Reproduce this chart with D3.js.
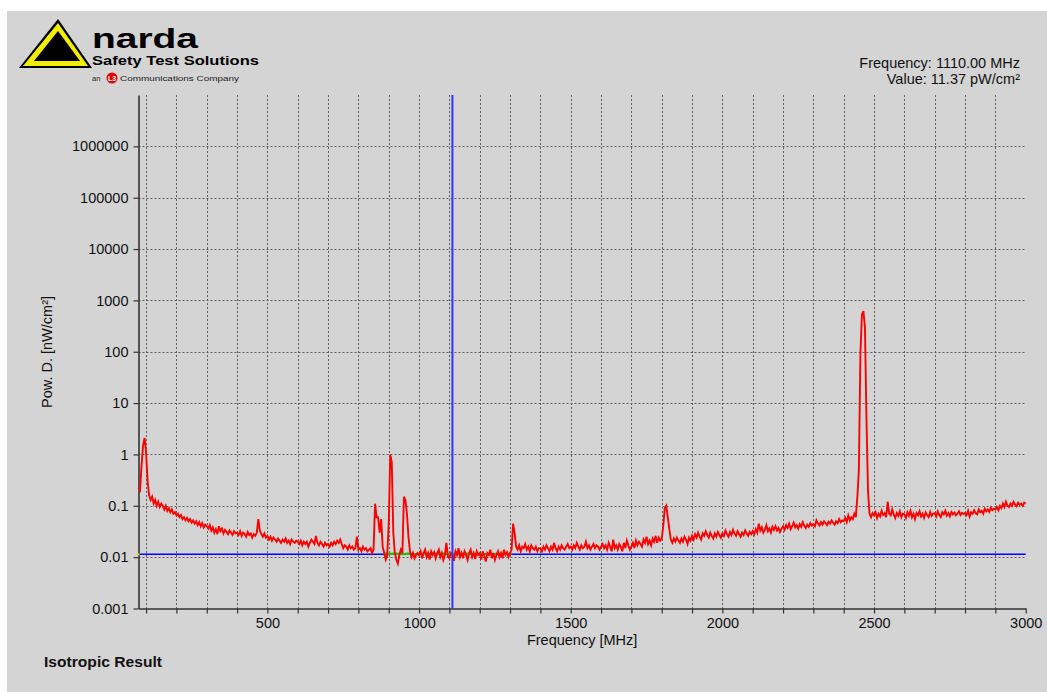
<!DOCTYPE html>
<html>
<head>
<meta charset="utf-8">
<script src="https://cdn.jsdelivr.net/npm/d3@7"></script>
<style>
  html, body { margin: 0; padding: 0; background: #fff; }
  svg { display: block; font-family: "Liberation Sans", Arial, sans-serif; }
</style>
</head>
<body>
<div id="chart"></div>
<script>
// ── Data ───────────────────────────────────────────────────────────────────
const SWEEP_START = 75   // MHz
const SWEEP_STEP = 5     // MHz per sample

// power density in nW/cm², one row per 100 MHz
const powerDensity = [
  0.22, 0.2, 0.6, 1.5, 2.1,
  1.1, 0.3, 0.16, 0.13, 0.15, 0.11, 0.13, 0.1, 0.12, 0.095, 0.11, 0.1, 0.085, 0.1, 0.08, 0.09, 0.075, 0.085, 0.07, 0.075,
  0.065, 0.07, 0.06, 0.066, 0.055, 0.06, 0.052, 0.058, 0.05, 0.055, 0.047, 0.052, 0.045, 0.05, 0.042, 0.048, 0.04, 0.046, 0.038, 0.043,
  0.04, 0.036, 0.042, 0.033, 0.038, 0.03, 0.035, 0.028, 0.04, 0.032, 0.036, 0.029, 0.034, 0.031, 0.028, 0.033, 0.03, 0.027, 0.032, 0.029,
  0.03, 0.027, 0.032, 0.026, 0.03, 0.028, 0.025, 0.031, 0.027, 0.029, 0.024, 0.028, 0.026, 0.03, 0.055, 0.033, 0.028, 0.025, 0.029, 0.024,
  0.026, 0.022, 0.025, 0.021, 0.024, 0.022, 0.02, 0.023, 0.021, 0.019, 0.022, 0.02, 0.023, 0.019, 0.021, 0.018, 0.022, 0.02, 0.019, 0.021,
  0.02, 0.018, 0.021, 0.017, 0.02, 0.018, 0.02, 0.016, 0.019, 0.022, 0.02, 0.018, 0.026, 0.019, 0.017, 0.02, 0.018, 0.016, 0.019, 0.017,
  0.018, 0.016, 0.019, 0.017, 0.02, 0.018, 0.021, 0.019, 0.022, 0.018, 0.015, 0.017, 0.016, 0.014, 0.017, 0.015, 0.016, 0.014, 0.015, 0.025,
  0.014, 0.015, 0.013, 0.016, 0.014, 0.015, 0.013, 0.014, 0.015, 0.012, 0.014, 0.11, 0.06, 0.06, 0.03, 0.055, 0.016, 0.012, 0.009, 0.011,
  0.045, 1.0, 0.7, 0.03, 0.012, 0.009, 0.0075, 0.011, 0.014, 0.012, 0.15, 0.13, 0.07, 0.025, 0.013, 0.01, 0.012, 0.0095, 0.011, 0.012,
  0.011, 0.013, 0.0095, 0.012, 0.014, 0.01, 0.012, 0.009, 0.013, 0.011, 0.0125, 0.0095, 0.012, 0.014, 0.01, 0.012, 0.0088, 0.011, 0.019, 0.0105,
  0.0095, 0.012, 0.011, 0.0085, 0.013, 0.011, 0.015, 0.01, 0.012, 0.0095, 0.013, 0.011, 0.0088, 0.012, 0.014, 0.01, 0.012, 0.0092, 0.013, 0.011,
  0.012, 0.009, 0.013, 0.0105, 0.0082, 0.012, 0.011, 0.014, 0.0095, 0.012, 0.0088, 0.011, 0.013, 0.01, 0.012, 0.0095, 0.014, 0.011, 0.0125, 0.01,
  0.012, 0.014, 0.045, 0.03, 0.016, 0.014, 0.017, 0.013, 0.016, 0.015, 0.018, 0.014, 0.016, 0.013, 0.017, 0.015, 0.014, 0.016, 0.013, 0.015,
  0.015, 0.013, 0.016, 0.014, 0.017, 0.015, 0.013, 0.016, 0.014, 0.019, 0.015, 0.013, 0.016, 0.014, 0.017, 0.015, 0.014, 0.016, 0.018, 0.015,
  0.016, 0.014, 0.017, 0.015, 0.019, 0.016, 0.014, 0.017, 0.015, 0.016, 0.02, 0.015, 0.017, 0.014, 0.016, 0.018, 0.015, 0.017, 0.016, 0.014,
  0.016, 0.018, 0.015, 0.017, 0.014, 0.019, 0.016, 0.013, 0.022, 0.015, 0.017, 0.014, 0.018, 0.016, 0.013, 0.019, 0.015, 0.021, 0.017, 0.014,
  0.016, 0.019, 0.015, 0.021, 0.017, 0.02, 0.018, 0.016, 0.022, 0.019, 0.025, 0.018, 0.021, 0.017, 0.023, 0.02, 0.026, 0.019, 0.024, 0.021,
  0.023, 0.04, 0.09, 0.1, 0.06, 0.035, 0.022, 0.019, 0.023, 0.02, 0.024, 0.021, 0.019, 0.023, 0.02, 0.025, 0.022, 0.018, 0.024, 0.021,
  0.026, 0.022, 0.028, 0.024, 0.03, 0.025, 0.022, 0.029, 0.026, 0.032, 0.027, 0.024, 0.03, 0.026, 0.023, 0.029, 0.025, 0.031, 0.027, 0.024,
  0.029, 0.026, 0.033, 0.028, 0.025, 0.031, 0.027, 0.034, 0.029, 0.026, 0.032, 0.028, 0.025, 0.03, 0.027, 0.033, 0.029, 0.026, 0.031, 0.028,
  0.032, 0.028, 0.035, 0.03, 0.045, 0.033, 0.038, 0.03, 0.034, 0.042, 0.032, 0.036, 0.03, 0.039, 0.034, 0.04, 0.033, 0.037, 0.031, 0.036,
  0.04, 0.034, 0.042, 0.037, 0.045, 0.035, 0.04, 0.047, 0.038, 0.042, 0.036, 0.044, 0.039, 0.048, 0.041, 0.037, 0.043, 0.039, 0.046, 0.041,
  0.044, 0.04, 0.052, 0.045, 0.041, 0.048, 0.043, 0.05, 0.046, 0.042, 0.049, 0.045, 0.052, 0.047, 0.043, 0.05, 0.046, 0.055, 0.048, 0.052,
  0.05, 0.058, 0.048, 0.065, 0.052, 0.06, 0.055, 0.07, 0.06, 0.15, 0.5, 90, 530, 620, 300, 5, 0.2, 0.07, 0.06, 0.072,
  0.065, 0.075, 0.058, 0.07, 0.062, 0.08, 0.066, 0.072, 0.06, 0.12, 0.07, 0.065, 0.085, 0.068, 0.058, 0.072, 0.064, 0.078, 0.06, 0.07,
  0.068, 0.058, 0.075, 0.064, 0.08, 0.06, 0.07, 0.055, 0.072, 0.065, 0.078, 0.062, 0.07, 0.058, 0.074, 0.066, 0.06, 0.076, 0.064, 0.07,
  0.072, 0.062, 0.078, 0.066, 0.06, 0.075, 0.068, 0.08, 0.064, 0.072, 0.062, 0.076, 0.068, 0.074, 0.065, 0.07, 0.078, 0.066, 0.073, 0.069,
  0.072, 0.066, 0.08, 0.062, 0.075, 0.07, 0.082, 0.072, 0.068, 0.085, 0.075, 0.08, 0.07, 0.088, 0.078, 0.085, 0.076, 0.092, 0.082, 0.088,
  0.085, 0.095, 0.082, 0.1, 0.09, 0.11, 0.095, 0.12, 0.1, 0.095, 0.11, 0.1, 0.12, 0.105, 0.098, 0.115, 0.105, 0.11, 0.1, 0.115,
  0.11
]

// second (green) trace, only visible around the noise floor
const greenFreq = [885, 905, 925, 945, 965, 985, 1005, 1030, 1055, 1080, 1105, 1130, 1155, 1180, 1205, 1230, 1255, 1280, 1305]
const greenVal = [0.0118, 0.0116, 0.0117, 0.0115, 0.0117, 0.0114, 0.0117, 0.0115, 0.0116, 0.0117, 0.0114, 0.0116, 0.0117, 0.0115, 0.0116, 0.0114, 0.0116, 0.0117, 0.0116]

const yTicks = [0.001, 0.01, 0.1, 1, 10, 100, 1000, 10000, 100000, 1000000]
const xTicks = [100, 200, 300, 400, 500, 600, 700, 800, 900, 1000, 1100, 1200, 1300, 1400, 1500,
  1600, 1700, 1800, 1900, 2000, 2100, 2200, 2300, 2400, 2500, 2600, 2700, 2800, 2900, 3000]
const xLabels = [500, 1000, 1500, 2000, 2500, 3000]

const markerFreq = 1110       // MHz
const markerValue = 0.01137   // nW/cm²

// ── Layout ────────────────────────────────────────────────────────────────
const W = 1047, H = 692
const plot = { left: 138.5, right: 1025.7, top: 95, bottom: 608.5 }
const FONT = 14.5

const svg = d3.select('#chart').append('svg')
  .attr('width', W).attr('height', H)

svg.append('rect').attr('x', 7).attr('y', 11).attr('width', W - 7).attr('height', H - 11).attr('fill', '#d4d4d4')

const x = d3.scaleLinear().domain([SWEEP_START, 3000]).range([plot.left, plot.right])
const y = d3.scaleLog().domain([0.001, 1e7]).range([plot.bottom, plot.top])

const trace = powerDensity.map((v, i) => ({ f: SWEEP_START + i * SWEEP_STEP, v }))
const green = greenFreq.map((f, i) => ({ f, v: greenVal[i] }))

// ── Grid ──────────────────────────────────────────────────────────────────
const grid = svg.append('g').attr('stroke', '#5e5e5e').attr('stroke-width', 1).attr('stroke-dasharray', '2,2')
grid.selectAll('line.v').data(xTicks.filter(d => d < 3000)).join('line').attr('class', 'v')
  .attr('x1', d => Math.round(x(d)) + 0.5).attr('x2', d => Math.round(x(d)) + 0.5)
  .attr('y1', plot.top).attr('y2', plot.bottom)
grid.selectAll('line.h').data(yTicks.slice(1)).join('line').attr('class', 'h')
  .attr('x1', plot.left).attr('x2', plot.right)
  .attr('y1', d => Math.round(y(d)) + 0.5).attr('y2', d => Math.round(y(d)) + 0.5)

// ── Axes ──────────────────────────────────────────────────────────────────
const yAxis = svg.append('g').attr('transform', `translate(${plot.left},0)`)
  .call(d3.axisLeft(y).tickValues(yTicks).tickFormat(d => String(d)).tickSize(5).tickSizeOuter(0).tickPadding(5))
const xAxis = svg.append('g').attr('transform', `translate(0,${plot.bottom})`)
  .call(d3.axisBottom(x).tickValues(xTicks).tickFormat(d => xLabels.includes(d) ? String(d) : '').tickSize(5).tickSizeOuter(0).tickPadding(4))

;[yAxis, xAxis].forEach(ax => {
  ax.select('.domain').attr('stroke', '#333').attr('stroke-width', 1.6)
  ax.selectAll('.tick line').attr('stroke', '#333').attr('stroke-width', 1.2)
  ax.selectAll('.tick text').attr('fill', '#111').style('font-size', FONT + 'px')
    .style('font-family', '"Liberation Sans", Arial, sans-serif')
})

// ── Marker lines ──────────────────────────────────────────────────────────
svg.append('line')
  .attr('x1', plot.left).attr('x2', plot.right)
  .attr('y1', y(markerValue)).attr('y2', y(markerValue))
  .attr('stroke', '#0000ff').attr('stroke-width', 1.6)
svg.append('rect').attr('x', plot.left - 2).attr('y', y(markerValue) - 1).attr('width', 3).attr('height', 2).attr('fill', '#e0e000')

// ── Traces ────────────────────────────────────────────────────────────────
const line = d3.line().x(d => x(d.f)).y(d => y(d.v))
svg.append('path').datum(green).attr('d', line)
  .attr('fill', 'none').attr('stroke', '#22c000').attr('stroke-width', 2.2)
svg.append('path').datum(trace).attr('d', line)
  .attr('fill', 'none').attr('stroke', '#ff0000').attr('stroke-width', 1.9).attr('stroke-linejoin', 'miter')

svg.append('line')
  .attr('x1', x(markerFreq)).attr('x2', x(markerFreq))
  .attr('y1', plot.top).attr('y2', plot.bottom)
  .attr('stroke', '#3535ff').attr('stroke-width', 2)

// ── Texts ─────────────────────────────────────────────────────────────────
svg.append('text').attr('x', 1020).attr('y', 68).attr('text-anchor', 'end')
  .style('font-size', FONT + 'px').attr('fill', '#111')
  .text(`Frequency: ${markerFreq.toFixed(2)} MHz`)
svg.append('text').attr('x', 1020).attr('y', 84).attr('text-anchor', 'end')
  .style('font-size', FONT + 'px').attr('fill', '#111')
  .text(`Value: ${(markerValue * 1000).toFixed(2)} pW/cm²`)

svg.append('text').attr('x', (plot.left + plot.right) / 2).attr('y', 645).attr('text-anchor', 'middle')
  .style('font-size', FONT + 'px').attr('fill', '#111').text('Frequency [MHz]')
svg.append('text').attr('transform', 'translate(52,352) rotate(-90)').attr('text-anchor', 'middle')
  .style('font-size', FONT + 'px').attr('fill', '#111').text('Pow. D. [nW/cm²]')
svg.append('text').attr('x', 44).attr('y', 667).attr('textLength', 118).attr('lengthAdjust', 'spacingAndGlyphs')
  .style('font-size', '15px').style('font-weight', 'bold').attr('fill', '#111').text('Isotropic Result')

// ── Logo ──────────────────────────────────────────────────────────────────
const logo = svg.append('g')
logo.append('path').attr('d', 'M19,68 L58,19 L92,68 Z').attr('fill', '#000')
logo.append('path').attr('d', 'M23,66 L58,23 L88,66 Z').attr('fill', '#f2ee00')
logo.append('path').attr('d', 'M34,61 L58,31 L80,61 Z').attr('fill', '#000')
logo.append('text').attr('x', 92).attr('y', 48).attr('textLength', 106).attr('lengthAdjust', 'spacingAndGlyphs')
  .style('font-size', '28px').style('font-weight', 'bold').attr('fill', '#000').text('narda')
logo.append('text').attr('x', 92).attr('y', 65).attr('textLength', 167).attr('lengthAdjust', 'spacingAndGlyphs')
  .style('font-size', '12.5px').style('font-weight', 'bold').attr('fill', '#000').text('Safety Test Solutions')
logo.append('text').attr('x', 92).attr('y', 81).style('font-size', '7.5px').attr('fill', '#222').text('an')
logo.append('circle').attr('cx', 112).attr('cy', 78).attr('r', 5.5).attr('fill', '#e00000')
logo.append('text').attr('x', 112).attr('y', 81).attr('text-anchor', 'middle')
  .style('font-size', '7px').style('font-weight', 'bold').attr('fill', '#fff').text('L3')
logo.append('text').attr('x', 120).attr('y', 81).attr('textLength', 119).attr('lengthAdjust', 'spacingAndGlyphs')
  .style('font-size', '7.5px').attr('fill', '#222').text('Communications Company')
</script>
</body>
</html>
